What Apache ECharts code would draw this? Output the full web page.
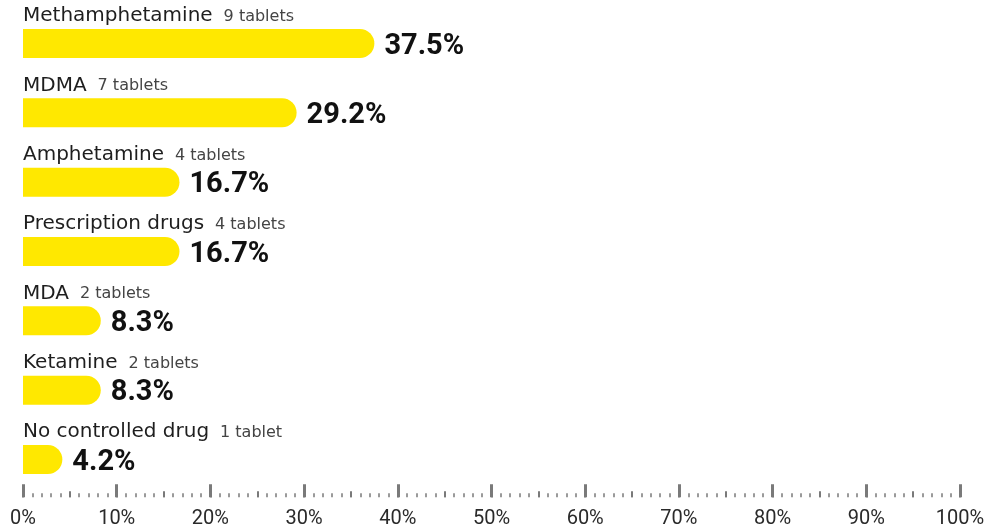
<!DOCTYPE html>
<html>
<head>
<meta charset="utf-8">
<script src="https://cdn.jsdelivr.net/npm/echarts@6/dist/echarts.min.js"></script>
<style>
  html, body { margin: 0; padding: 0; background: #fff; }
  #chart { width: 995px; height: 531px; }
</style>
</head>
<body>
<div id="chart"></div>
<script>
// Substances found in tested tablets
const categories = ['Methamphetamine', 'MDMA', 'Amphetamine', 'Prescription drugs', 'MDA', 'Ketamine', 'No controlled drug'];
const tabletCounts = [9, 7, 4, 4, 2, 2, 1];
const shares = [37.5, 29.2, 16.7, 16.7, 8.3, 8.3, 4.2];
const tickLabels = ['0%', '10%', '20%', '30%', '40%', '50%', '60%', '70%', '80%', '90%', '100%'];

const YELLOW = '#FFE800';
const TICK = '#7a7a7a';
const NAME_FONT = 'DejaVu Sans';
const NUM_FONT = 'Roboto';

const chart = echarts.init(document.getElementById('chart'), null, { renderer: 'canvas' });

function baseX(extra) {
  return Object.assign({
    type: 'value',
    min: 0,
    max: 100,
    position: 'bottom',
    offset: 3,
    gridIndex: 0,
    splitLine: { show: false },
    axisLine: { show: false },
    axisLabel: { show: false }
  }, extra);
}

const option = {
  animation: false,
  grid: { left: 23, right: 35, top: 8.8, bottom: 531 - 494.2, containLabel: false },
  xAxis: [
    // major ticks every 10% with labels
    baseX({
      interval: 10,
      axisTick: { show: true, inside: true, length: 13, lineStyle: { color: TICK, width: 3 } },
      axisLabel: {
        show: true,
        margin: 12,
        color: '#2a2a2a',
        fontFamily: NUM_FONT,
        fontSize: 20,
        formatter: function (v) { return tickLabels[Math.round(v / 10)]; }
      }
    }),
    // mid ticks every 5%
    baseX({
      interval: 5,
      axisTick: { show: true, inside: true, length: 6, lineStyle: { color: TICK, width: 2 } }
    }),
    // minor ticks every 1%
    baseX({
      interval: 1,
      axisTick: { show: true, inside: true, length: 4, lineStyle: { color: TICK, width: 1.5 } }
    })
  ],
  yAxis: {
    type: 'category',
    data: categories,
    inverse: true,
    axisLine: { show: false },
    axisTick: { show: false },
    axisLabel: { show: false },
    splitLine: { show: false }
  },
  series: [
    {
      type: 'bar',
      xAxisIndex: 0,
      data: shares,
      barWidth: 29,
      itemStyle: { color: YELLOW, borderRadius: [0, 14.5, 14.5, 0] },
      label: {
        show: true,
        position: 'right',
        distance: 10,
        offset: [0, 3],
        fontFamily: NUM_FONT,
        fontWeight: 'bold',
        fontSize: 29,
        color: '#111',
        formatter: function (p) { return shares[p.dataIndex].toFixed(1) + '%'; }
      }
    },
    {
      // category names with tablet counts, drawn above each bar
      type: 'bar',
      xAxisIndex: 0,
      data: shares,
      barWidth: 29,
      barGap: '-100%',
      silent: true,
      itemStyle: { color: 'rgba(0,0,0,0)' },
      label: {
        show: true,
        position: [0, -3],
        align: 'left',
        verticalAlign: 'bottom',
        formatter: function (p) {
          const n = tabletCounts[p.dataIndex];
          return '{n|' + categories[p.dataIndex] + '}{t|' + n + (n === 1 ? ' tablet' : ' tablets') + '}';
        },
        rich: {
          n: { fontFamily: NAME_FONT, fontSize: 20, color: '#1e1e1e', padding: [0, 11, 0, 0], lineHeight: 22, verticalAlign: 'bottom' },
          t: { fontFamily: NAME_FONT, fontSize: 16, color: '#444', lineHeight: 22, verticalAlign: 'bottom', padding: [0, 0, 1, 0] }
        }
      }
    }
  ]
};

chart.setOption(option);
</script>
</body>
</html>
